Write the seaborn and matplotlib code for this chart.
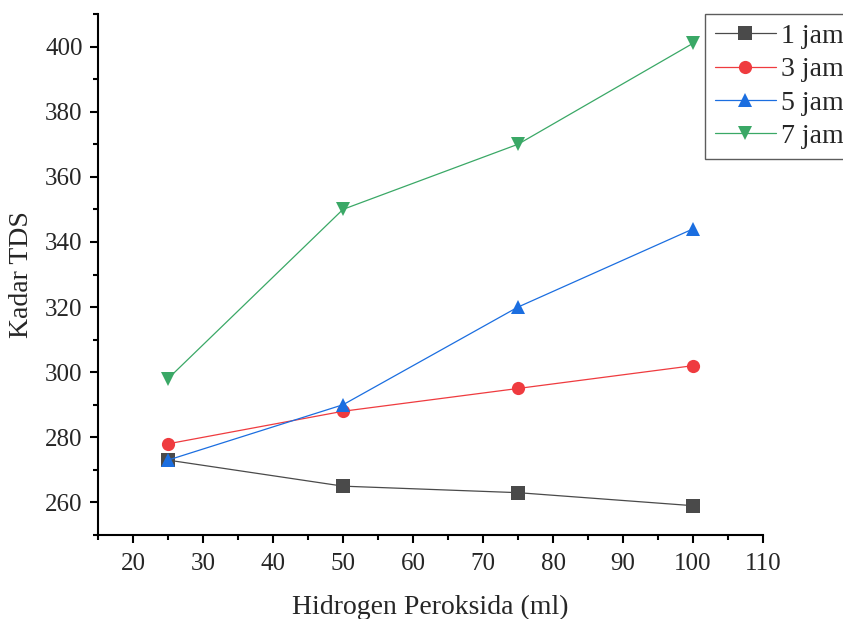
import pandas as pd
import matplotlib
matplotlib.use("Agg")
import matplotlib.pyplot as plt
import seaborn as sns
from matplotlib.ticker import MultipleLocator

sns.set_style("ticks")
plt.rcParams['font.family'] = ['Liberation Serif', 'DejaVu Serif']

# data
volume = [25, 50, 75, 100]
series_names = ['1 jam', '3 jam', '5 jam', '7 jam']
tds_1jam = [273, 265, 263, 259]
tds_3jam = [278, 288, 295, 302]
tds_5jam = [273, 290, 320, 344]
tds_7jam = [298, 350, 370, 401]

colors = ['#4a4a4a', '#ef3b3f', '#1b6ee0', '#3aa866']
markers = ['s', 'o', '^', 'v']

frames = []
for name, vals in zip(series_names, [tds_1jam, tds_3jam, tds_5jam, tds_7jam]):
    frames.append(pd.DataFrame({'volume': volume, 'tds': vals, 'waktu': name}))
df = pd.concat(frames, ignore_index=True)

fig = plt.figure(figsize=(8.43, 6.19), dpi=100)
ax = fig.add_axes([98 / 843, 84 / 619, 665 / 843, 521 / 619])

sns.lineplot(data=df, x='volume', y='tds', hue='waktu', style='waktu',
             palette=dict(zip(series_names, colors)),
             markers=dict(zip(series_names, markers)), dashes=False,
             markersize=9.5, markeredgewidth=0, linewidth=0.9, ax=ax)

ax.set_xlim(15, 110)
ax.set_ylim(250, 410)
ax.xaxis.set_major_locator(MultipleLocator(10))
ax.xaxis.set_minor_locator(MultipleLocator(5))
ax.yaxis.set_major_locator(MultipleLocator(20))
ax.yaxis.set_minor_locator(MultipleLocator(10))
ax.tick_params(which='major', direction='out', length=6, width=1.5, labelsize=18, color='black')
ax.tick_params(which='minor', direction='out', length=3.5, width=1.5, color='black')
ax.tick_params(axis='x', which='major', pad=7)
ax.tick_params(axis='y', which='major', pad=5)
for s in ['top', 'right']:
    ax.spines[s].set_visible(False)
for s in ['left', 'bottom']:
    ax.spines[s].set_linewidth(1.5)
    ax.spines[s].set_color('black')

ax.set_xlabel('Hidrogen Peroksida (ml)', fontsize=20, labelpad=14)
ax.set_ylabel('Kadar TDS', fontsize=20, labelpad=8)

leg = ax.legend(loc='upper left', bbox_to_anchor=(705 / 843, 1 - 14 / 619),
                bbox_transform=fig.transFigure, fontsize=20, frameon=True,
                fancybox=False, edgecolor='#333333', borderaxespad=0,
                handlelength=2.2, labelspacing=0.28, borderpad=0.35, handletextpad=0.2)
leg.get_frame().set_linewidth(1.0)

fig.savefig('out.png', dpi=100)
